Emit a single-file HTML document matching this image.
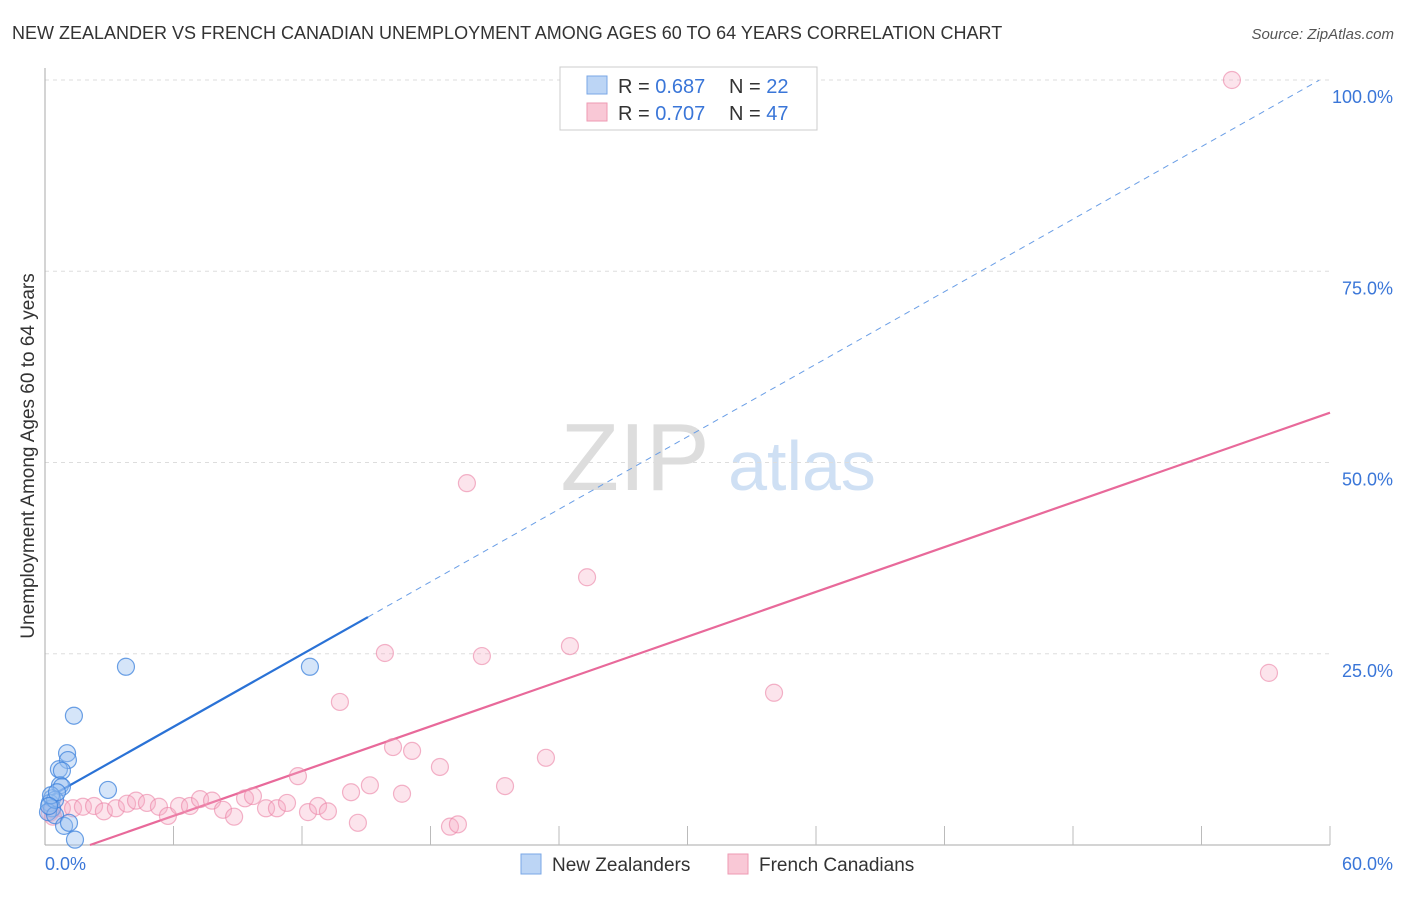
<!DOCTYPE html>
<html><head><meta charset="utf-8"><style>
body{margin:0;background:#fff;font-family:"Liberation Sans",sans-serif;}
svg text{font-family:"Liberation Sans",sans-serif;}
</style></head><body>
<svg id="chart" width="1406" height="892" viewBox="0 0 1406 892" xmlns="http://www.w3.org/2000/svg">
<text x="12" y="39" font-size="18" fill="#333">NEW ZEALANDER VS FRENCH CANADIAN UNEMPLOYMENT AMONG AGES 60 TO 64 YEARS CORRELATION CHART</text>
<text x="1394" y="39" font-size="15" fill="#555" text-anchor="end" font-style="italic">Source: ZipAtlas.com</text>
<g>
<text x="635" y="490" font-size="96" fill="#ddd" font-family="Liberation Serif" text-anchor="middle">ZIP</text>
<text x="802" y="490" font-size="70" fill="#cfe0f4" text-anchor="middle">atlas</text>
</g>
<text transform="translate(34,456) rotate(-90)" font-size="19" fill="#333" text-anchor="middle">Unemployment Among Ages 60 to 64 years</text>
<g id="grid"></g><g id="axes"></g><g id="lines"></g><g id="pts"></g>
<g>
<rect x="560" y="67" width="257" height="63" fill="#fff" stroke="#ccc"/>
<rect x="587" y="76" width="20" height="18" fill="#bcd5f5" stroke="#7aa7e6"/>
<text x="618" y="93" font-size="20" fill="#333">R = <tspan fill="#3a76d8">0.687</tspan></text>
<text x="729" y="93" font-size="20" fill="#333">N = <tspan fill="#3a76d8">22</tspan></text>
<rect x="587" y="103" width="20" height="18" fill="#f9c8d6" stroke="#ee9ab3"/>
<text x="618" y="120" font-size="20" fill="#333">R = <tspan fill="#3a76d8">0.707</tspan></text>
<text x="729" y="120" font-size="20" fill="#333">N = <tspan fill="#3a76d8">47</tspan></text>
</g>
<g>
<rect x="521" y="854" width="20" height="20" fill="#bcd5f5" stroke="#7aa7e6"/>
<text x="552" y="871" font-size="19" fill="#333">New Zealanders</text>
<rect x="728" y="854" width="20" height="20" fill="#f9c8d6" stroke="#ee9ab3"/>
<text x="759" y="871" font-size="19" fill="#333">French Canadians</text>
</g>
</svg>
<script>
const blueX=[3.78,12.37,1.35,1.03,1.07,0.65,0.79,0.70,0.79,2.94,0.33,0.23,0.33,0.14,0.47,0.89,1.12,1.40,0.47,0.28,0.56,0.19];
const blueY=[23.3,23.3,16.9,12.0,11.1,9.9,9.7,7.8,7.6,7.2,6.1,5.5,4.8,4.3,3.9,2.5,2.9,0.7,5.9,6.5,6.9,5.1];
const pinkX=[15.87,13.77,16.25,17.14,18.44,11.81,14.29,15.17,16.67,14.61,18.91,19.28,0.33,0.79,1.31,1.77,2.29,2.75,3.31,3.83,4.25,4.76,5.32,5.74,6.26,6.77,7.24,7.80,8.31,8.83,9.34,9.71,10.32,10.83,11.30,12.28,12.75,13.21,0.23,0.37,21.48,23.39,25.31,24.51,20.40,19.70,34.04,57.15,55.42];
const pinkY=[25.1,18.7,12.8,12.3,10.2,9.0,6.9,7.8,6.7,2.9,2.4,2.7,4.6,4.8,4.8,5.0,5.1,4.4,4.8,5.4,5.8,5.5,5.0,3.8,5.1,5.1,6.0,5.8,4.6,3.7,6.1,6.4,4.8,4.8,5.5,4.3,5.1,4.4,4.2,3.7,7.7,11.4,35.0,26.0,24.7,47.3,19.9,22.5,100];
const yTicks=[25,50,75,100];
const yTickLabels=["25.0%","50.0%","75.0%","100.0%"];
const blueTrend=[1.58,5.97];
const pinkTrend=[0.976,-2.05];
const NS="http://www.w3.org/2000/svg";
const X=v=>45+v/60*1285, Y=v=>845-v/100*765;
function mk(t,a,p){const e=document.createElementNS(NS,t);for(const k in a)e.setAttribute(k,a[k]);p.appendChild(e);return e;}
const grid=document.getElementById('grid'),axes=document.getElementById('axes'),lines=document.getElementById('lines'),pts=document.getElementById('pts');
yTicks.forEach((t,i)=>{
 const l=mk('line',{x1:45,x2:1330,y1:Y(t),y2:Y(t),stroke:'#ddd','stroke-dasharray':'4,4'},grid);
 
 
 const tx=mk('text',{x:1393,y:Y(t)+23,'font-size':18,fill:'#3a76d8','text-anchor':'end'},axes);tx.textContent=yTickLabels[i];
 
 
});
const ax=mk('line',{x1:45,x2:45,y1:68,y2:845,stroke:'#aaa'},axes);


const bx=mk('line',{x1:45,x2:1330,y1:845,y2:845,stroke:'#aaa'},axes);


for(let i=1;i<=10;i++){const t=mk('line',{x1:X(i*6),x2:X(i*6),y1:826,y2:845,stroke:'#bbb'},axes);
 
 }
[[45,'0.0%','start'],[1393,'60.0%','end']].forEach(d=>{const t=mk('text',{x:d[0],y:870,'font-size':18,fill:'#3a76d8','text-anchor':d[2]},axes);t.textContent=d[1];
 
 });
function pt(xs,ys,fill,stroke,name){xs.forEach((x,i)=>{const c=mk('circle',{cx:X(x),cy:Y(ys[i]),r:8.5,fill:fill,stroke:stroke,'stroke-width':1.2},pts);
 
 });}
pt(pinkX,pinkY,'rgba(246,170,195,0.32)','rgba(235,130,165,0.6)','french-canadian-point');
pt(blueX,blueY,'rgba(150,190,240,0.4)','rgba(60,130,220,0.75)','new-zealander-point');
const b=blueTrend;
const l1=mk('line',{x1:X(0.3),y1:Y(b[0]*0.3+b[1]),x2:X(15.08),y2:Y(b[0]*15.08+b[1]),stroke:'#2a72d6','stroke-width':2.2},lines);


const l2=mk('line',{x1:X(15.08),y1:Y(b[0]*15.08+b[1]),x2:X(59.5),y2:Y(b[0]*59.5+b[1]),stroke:'#6a9ee6','stroke-width':1,'stroke-dasharray':'6,5'},lines);


const p=pinkTrend,x0=-p[1]/p[0];
const l3=mk('line',{x1:X(x0),y1:Y(0),x2:X(60),y2:Y(p[0]*60+p[1]),stroke:'#e8699a','stroke-width':2.2},lines);


</script>
</body></html>
